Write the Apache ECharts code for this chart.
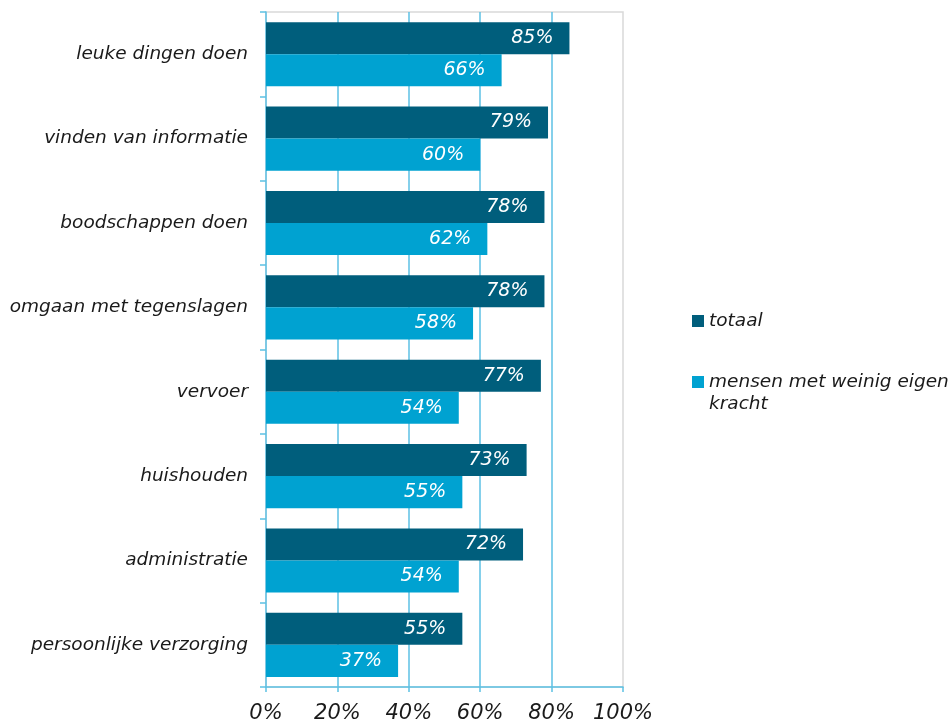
<!DOCTYPE html>
<html>
<head>
<meta charset="utf-8">
<script src="https://cdn.jsdelivr.net/npm/echarts@6/dist/echarts.min.js"></script>
<style>
  html, body { margin: 0; padding: 0; background: #fff; }
  #chart { width: 952px; height: 722px; }
</style>
</head>
<body>
<div id="chart"></div>
<script>
// Activiteiten waarbij hulp nodig is (percentage)
const categories = [
  'leuke dingen doen',
  'vinden van informatie',
  'boodschappen doen',
  'omgaan met tegenslagen',
  'vervoer',
  'huishouden',
  'administratie',
  'persoonlijke verzorging'
];
const seriesNames = ['totaal', 'mensen met weinig eigen kracht'];
const totaal = [85, 79, 78, 78, 77, 73, 72, 55];
const weinigEigenKracht = [66, 60, 62, 58, 54, 55, 54, 37];
const xTicks = [0, 20, 40, 60, 80, 100];

const FONT = 'DejaVu Sans';
const DARK = '#005e7c';
const LIGHT = '#00a2d1';
const GRIDBLUE = '#5cc1e4';
const TEXT = '#1a1a1a';

const chart = echarts.init(document.getElementById('chart'), null, { renderer: 'canvas' });

const barLabel = {
  show: true,
  position: 'insideRight',
  distance: 16,
  formatter: p => p.value + '%',
  color: '#ffffff',
  fontFamily: FONT,
  fontStyle: 'italic',
  fontSize: 19
};

// The long legend entry wraps; a leading empty line keeps its first line level with the swatch.
const legendText = name => name === seriesNames[1] ? '\nmensen met weinig eigen\nkracht' : name;

chart.setOption({
  animation: false,
  backgroundColor: '#ffffff',
  grid: {
    left: 266, right: 329, top: 12, bottom: 35,
    outerBoundsMode: 'none',
    containLabel: false,
    show: true, borderColor: '#d9d9d9', borderWidth: 1.5, backgroundColor: 'transparent'
  },
  legend: {
    orient: 'vertical',
    left: 692,
    top: 310,
    padding: 0,
    itemWidth: 12,
    itemHeight: 12,
    itemGap: 17,
    icon: 'rect',
    textStyle: { fontFamily: FONT, fontStyle: 'italic', fontSize: 18.5, color: TEXT, lineHeight: 22 },
    formatter: legendText,
    data: seriesNames
  },
  xAxis: {
    type: 'value',
    min: xTicks[0],
    max: xTicks[xTicks.length - 1],
    interval: 20,
    axisLine: { show: true, lineStyle: { color: GRIDBLUE, width: 1.5 } },
    axisTick: { show: true, length: 5, lineStyle: { color: GRIDBLUE, width: 1.5 } },
    axisLabel: {
      formatter: v => v + '%',
      fontFamily: FONT, fontStyle: 'italic', fontSize: 21, color: TEXT, margin: 16
    },
    splitLine: { show: true, showMinLine: false, showMaxLine: false, lineStyle: { color: GRIDBLUE, width: 1.5 } }
  },
  yAxis: {
    type: 'category',
    data: categories,
    inverse: true,
    axisLine: { show: true, lineStyle: { color: GRIDBLUE, width: 1.5 } },
    axisTick: { show: true, length: 6, lineStyle: { color: GRIDBLUE, width: 1.5 } },
    axisLabel: {
      fontFamily: FONT, fontStyle: 'italic', fontSize: 18.5, color: TEXT, margin: 18
    },
    splitLine: { show: false }
  },
  series: [
    {
      name: seriesNames[0],
      type: 'bar',
      data: totaal,
      itemStyle: { color: DARK },
      barGap: '0%',
      barCategoryGap: '24%',
      label: barLabel
    },
    {
      name: seriesNames[1],
      type: 'bar',
      data: weinigEigenKracht,
      itemStyle: { color: LIGHT },
      barGap: '0%',
      barCategoryGap: '24%',
      label: barLabel
    }
  ]
});
</script>
</body>
</html>
